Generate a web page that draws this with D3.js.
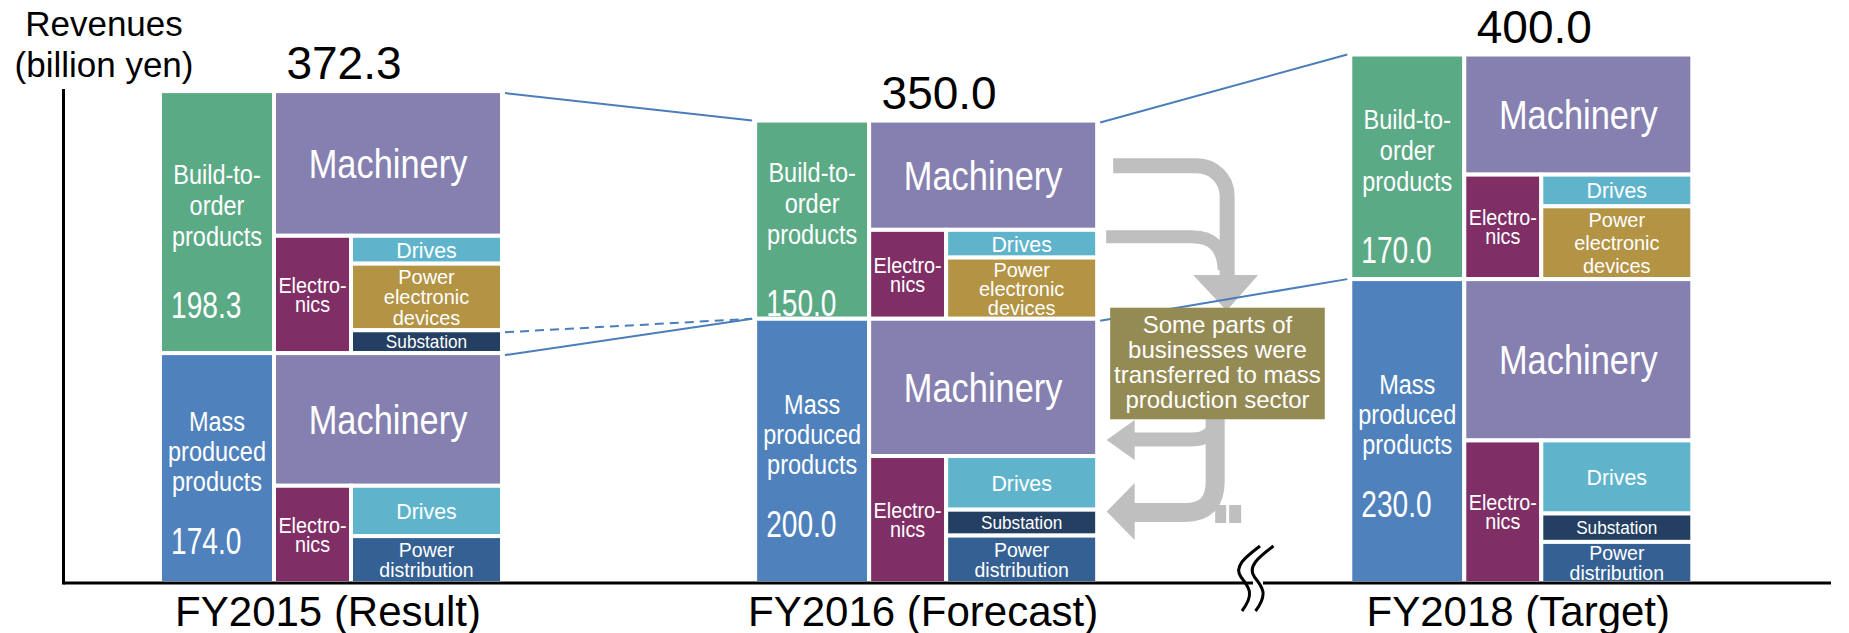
<!DOCTYPE html>
<html>
<head>
<meta charset="utf-8">
<script src="https://cdn.jsdelivr.net/npm/d3@7"></script>
<style>
    body { margin: 0; background: #ffffff; }
    svg { display: block; font-family: "Liberation Sans", Arial, sans-serif; }
</style>
</head>
<body>
<svg id="revenuechart"></svg>
<script>
// revenue per fiscal year (billion yen)
var years = ["FY2015 (Result)", "FY2016 (Forecast)", "FY2018 (Target)"];
var totalRevenue = [372.3, 350.0, 400.0];
var buildToOrder = [198.3, 150.0, 170.0];
var massProduced = [174.0, 200.0, 230.0];

// sub blocks, estimated from the block sizes in the picture
var buildMachinery = [109.5, 82.7, 90.9];
var buildDrives = [21.1, 21.0, 24.0];
var buildPowerElectronic = [50.4, 46.3, 55.1];
var buildSubstation = [17.3, 0, 0];
var massMachinery = [100.4, 103.9, 122.1];
var massDrives = [38.1, 40.6, 55.3];
var massSubstation = [0, 19.6, 21.5];
var massPowerDistribution = [35.5, 35.9, 31.1];

var noteLines = ["Some parts of", "businesses were", "transferred to mass", "production sector"];

var dimensions = {
    width: 1849,
    height: 633,
    axisX: 63.5,
    axisTop: 89,
    axisRight: 1831
}

var svg = d3.select("#revenuechart")
    .attr("width", dimensions.width)
    .attr("height", dimensions.height)

var yScale = d3.scaleLinear()
    .domain([0, 400])
    .range([583, 54.5])

var xScale = d3.scaleBand()
    .domain(years)
    .range([160, 1692.3])
    .paddingInner(0.4253)
    .paddingOuter(0)

var bw = xScale.bandwidth()
// split of each column: sector label | electronics | small items
var sectorEnd = 114, elecEnd = 191

var styles = {
    build: { fill: "#5BAA86", lines: ["Build-to-", "order", "products"], lh: 31, valueOffset: 96 },
    mass: { fill: "#4F81BD", lines: ["Mass", "produced", "products"], lh: 30, valueOffset: 86 },
    machinery: { fill: "#8680B1", lines: ["Machinery"], size: 40, squeeze: 0.86, lh: 40 },
    electronics: { fill: "#7F2F65", lines: ["Electro-", "nics"], size: 22, squeeze: 0.9, lh: 19 },
    drives: { fill: "#5FB4CC", lines: ["Drives"], size: 22, squeeze: 0.97, lh: 22 },
    powerElectronic: { fill: "#B39344", lines: ["Power", "electronic", "devices"], size: 21, squeeze: 0.95, lh: 0 },
    substation: { fill: "#243F61", lines: ["Substation"], size: 18.5, squeeze: 0.93, lh: 18 },
    powerDistribution: { fill: "#356093", lines: ["Power", "distribution"], size: 21, squeeze: 0.93, lh: 20 }
}

// build all the cells of the mosaic
var cells = []
var sectors = []
years.forEach(function(year, i) {
    var x0 = xScale(year)
    var blocks = [
        { kind: "build", top: totalRevenue[i], bottom: massProduced[i], value: buildToOrder[i], machinery: buildMachinery[i],
          items: [["drives", buildDrives[i]], ["powerElectronic", buildPowerElectronic[i]], ["substation", buildSubstation[i]]] },
        { kind: "mass", top: massProduced[i], bottom: 0, value: massProduced[i], machinery: massMachinery[i],
          items: [["drives", massDrives[i]], ["substation", massSubstation[i]], ["powerDistribution", massPowerDistribution[i]]] }
    ]
    blocks.forEach(function(b) {
        var rowTop = b.top - b.machinery
        var sector = { kind: b.kind, x0: x0, x1: x0 + sectorEnd, v0: b.bottom, v1: b.top, value: b.value }
        cells.push(sector)
        sectors.push(sector)
        cells.push({ kind: "machinery", x0: x0 + sectorEnd, x1: x0 + bw, v0: rowTop, v1: b.top })
        cells.push({ kind: "electronics", x0: x0 + sectorEnd, x1: x0 + elecEnd, v0: b.bottom, v1: rowTop })
        var cursor = rowTop
        b.items.forEach(function(it) {
            if (it[1] > 0) {
                cells.push({ kind: it[0], x0: x0 + elecEnd, x1: x0 + bw, v0: cursor - it[1], v1: cursor })
                cursor -= it[1]
            }
        })
    })
})

// gray transfer arrows between FY2016 and FY2018
var gx = xScale(years[1]) + bw
var arrows = svg.append("g").attr("fill", "none").attr("stroke", "#BFBFBF")
arrows.append("path").attr("stroke-width", 15)
    .attr("d", "M" + (gx + 16) + ",165.8 H" + (gx + 100) + " A30,30 0 0 1 " + (gx + 130) + ",195.8 V277")
arrows.append("path").attr("stroke-width", 13)
    .attr("d", "M" + (gx + 9) + ",236.7 H" + (gx + 95) + " Q" + (gx + 126) + ",236.7 " + (gx + 127) + ",270")
arrows.append("path").attr("stroke-width", 19)
    .attr("d", "M" + (gx + 118) + ",410 V482 Q" + (gx + 118) + ",512.5 " + (gx + 88) + ",512.5 H" + (gx + 34))
arrows.append("path").attr("stroke-width", 14)
    .attr("d", "M" + (gx + 118) + ",410 V418 Q" + (gx + 118) + ",439.5 " + (gx + 94) + ",439.5 H" + (gx + 34))
var heads = svg.append("g").attr("fill", "#BFBFBF")
heads.append("polygon").attr("points", [[gx + 96, 275], [gx + 161, 275], [gx + 129.5, 310.7]].join(" "))
heads.append("polygon").attr("points", [[gx + 37.5, 420], [gx + 37.5, 460], [gx + 9.5, 440]].join(" "))
heads.append("polygon").attr("points", [[gx + 37.5, 483], [gx + 37.5, 540], [gx + 9.5, 511.5]].join(" "))
heads.append("rect").attr("x", gx + 118).attr("y", 505).attr("width", 11).attr("height", 18)
heads.append("rect").attr("x", gx + 132).attr("y", 505).attr("width", 12).attr("height", 18)

// mosaic blocks
svg.append("g")
    .selectAll("rect")
    .data(cells)
    .enter()
    .append("rect")
    .attr("x", function(d) { return d.x0 })
    .attr("y", function(d) { return yScale(d.v1) })
    .attr("width", function(d) { return d.x1 - d.x0 })
    .attr("height", function(d) { return yScale(d.v0) - yScale(d.v1) })
    .attr("fill", function(d) { return styles[d.kind].fill })
    .attr("stroke", "#ffffff")
    .attr("stroke-width", 4)

// labels inside the small blocks
var cellLabels = svg.append("g")
    .selectAll("g")
    .data(cells.filter(function(d) { return d.kind != "build" && d.kind != "mass" }))
    .enter()
    .append("g")
    .attr("transform", function(d) {
        var cx = (d.x0 + d.x1) / 2
        var cy = (yScale(d.v0) + yScale(d.v1)) / 2
        return "translate(" + cx + "," + cy + ") scale(" + styles[d.kind].squeeze + ",1)"
    })

cellLabels.each(function(d) {
    var st = styles[d.kind]
    var lh = st.lh || (yScale(d.v0) - yScale(d.v1)) / 3.2
    var n = st.lines.length
    d3.select(this).selectAll("text")
        .data(st.lines)
        .enter()
        .append("text")
        .attr("text-anchor", "middle")
        .attr("y", function(t, j) { return (j - (n - 1) / 2) * lh + 0.358 * st.size })
        .attr("font-size", st.size)
        .attr("fill", "#ffffff")
        .text(function(t) { return t })
})

// sector names and values
sectors.forEach(function(d) {
    var st = styles[d.kind]
    var cx = (d.x0 + d.x1) / 2
    var cy = (yScale(d.v0) + yScale(d.v1)) / 2
    var name = svg.append("g")
        .attr("transform", "translate(" + cx + "," + (cy - 16.7) + ") scale(0.87,1)")
    name.selectAll("text")
        .data(st.lines)
        .enter()
        .append("text")
        .attr("text-anchor", "middle")
        .attr("y", function(t, j) { return (j - 1) * st.lh + 0.358 * 27 })
        .attr("font-size", 27)
        .attr("fill", "#ffffff")
        .text(function(t) { return t })
    svg.append("g")
        .attr("transform", "translate(" + (d.x0 + 11) + "," + (cy + st.valueOffset) + ") scale(0.76,1)")
        .append("text")
        .attr("font-size", 37)
        .attr("fill", "#ffffff")
        .text(d3.format(".1f")(d.value))
})

// totals on top of each column
svg.append("g")
    .selectAll("text")
    .data(years)
    .enter()
    .append("text")
    .attr("x", function(d) { return xScale(d) + bw / 2 + 13 })
    .attr("y", function(d, i) { return yScale(totalRevenue[i]) - 12 })
    .attr("text-anchor", "middle")
    .attr("font-size", 46)
    .attr("fill", "#000000")
    .text(function(d, i) { return d3.format(".1f")(totalRevenue[i]) })

// connector lines between the columns
var connectors = [
    { from: 0, fromValue: totalRevenue[0], to: 1, toValue: totalRevenue[1], dashed: false },
    { from: 0, fromValue: massProduced[0] + buildSubstation[0], to: 1, toValue: massProduced[1], dashed: true },
    { from: 0, fromValue: massProduced[0], to: 1, toValue: massProduced[1], dashed: false },
    { from: 1, fromValue: totalRevenue[1], to: 2, toValue: totalRevenue[2], dashed: false },
    { from: 1, fromValue: massProduced[1], to: 2, toValue: massProduced[2], dashed: false }
]
svg.append("g")
    .selectAll("line")
    .data(connectors)
    .enter()
    .append("line")
    .attr("x1", function(d) { return xScale(years[d.from]) + bw + 3 })
    .attr("y1", function(d) { return yScale(d.fromValue) + 2 })
    .attr("x2", function(d) { return xScale(years[d.to]) - 3 })
    .attr("y2", function(d) { return yScale(d.toValue) })
    .attr("stroke", "#4A7EBB")
    .attr("stroke-width", 2)
    .attr("stroke-dasharray", function(d) { return d.dashed ? "9,6" : null })

// note box
var note = svg.append("g")
note.append("rect")
    .attr("x", gx + 13)
    .attr("y", 307.7)
    .attr("width", 214.6)
    .attr("height", 111.6)
    .attr("fill", "#948A54")
note.selectAll("text")
    .data(noteLines)
    .enter()
    .append("text")
    .attr("x", gx + 13 + 107.3)
    .attr("y", function(d, i) { return 333.3 + i * 25 })
    .attr("text-anchor", "middle")
    .attr("font-size", 24)
    .attr("fill", "#ffffff")
    .text(function(d) { return d })

// axes
svg.append("line")
    .attr("x1", dimensions.axisX).attr("x2", dimensions.axisRight)
    .attr("y1", yScale(0)).attr("y2", yScale(0))
    .attr("stroke", "#000000").attr("stroke-width", 3)
svg.append("line")
    .attr("x1", dimensions.axisX).attr("x2", dimensions.axisX)
    .attr("y1", dimensions.axisTop).attr("y2", yScale(0) + 1.5)
    .attr("stroke", "#000000").attr("stroke-width", 3)

// axis break mark
var bx = 1245
svg.append("rect").attr("x", bx + 8).attr("y", yScale(0) - 4).attr("width", 10).attr("height", 8).attr("fill", "#ffffff")
svg.append("g")
    .selectAll("path")
    .data([0, 13.5])
    .enter()
    .append("path")
    .attr("d", function(d) {
        var x = bx + d
        return "M" + (x + 15) + ",546 C" + (x + 2) + ",556 " + (x - 12) + ",566 " + (x - 4) + ",577 C" + (x + 4) + ",587 " + (x + 10) + ",594 " + (x - 3) + ",611"
    })
    .attr("fill", "none")
    .attr("stroke", "#000000")
    .attr("stroke-width", 3)

// category labels
svg.append("g")
    .selectAll("text")
    .data(years)
    .enter()
    .append("text")
    .attr("x", function(d) { return xScale(d) + bw / 2 - 3 })
    .attr("y", 625.6)
    .attr("text-anchor", "middle")
    .attr("font-size", 42)
    .attr("fill", "#000000")
    .text(function(d) { return d })

// y axis title
svg.append("g")
    .selectAll("text")
    .data(["Revenues", "(billion yen)"])
    .enter()
    .append("text")
    .attr("x", 104)
    .attr("y", function(d, i) { return 36.3 + i * 40.4 })
    .attr("text-anchor", "middle")
    .attr("font-size", 35)
    .attr("fill", "#000000")
    .text(function(d) { return d })
</script>
</body>
</html>
